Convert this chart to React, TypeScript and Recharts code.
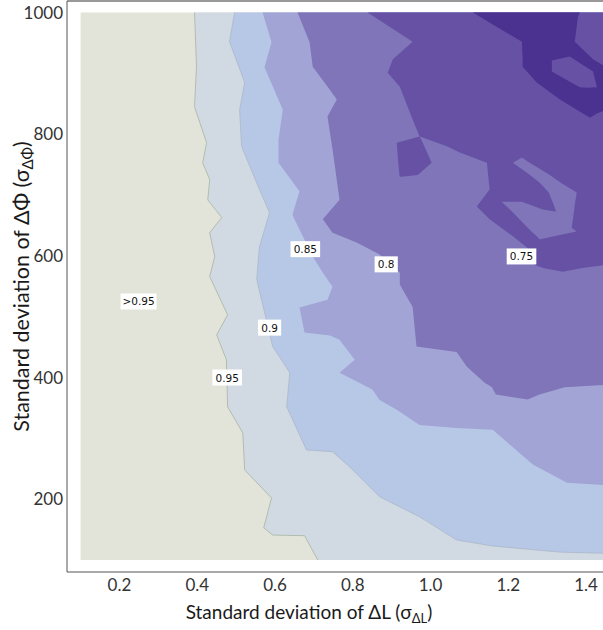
import { ComposedChart, Area, XAxis, YAxis, ReferenceDot, ReferenceLine, Label } from "recharts";

const FONT = "Lato, 'Open Sans', sans-serif";

const X_TICKS = [0.2, 0.4, 0.6, 0.8, 1.0, 1.2, 1.4];
const Y_TICKS = [200, 400, 600, 800, 1000];
const X_DOMAIN = [0.065, 1.4436];
const Y_DOMAIN = [80.3, 1018.9];

// contour regions, one row per level of sigma_dPhi: [y, x from, x to]
const regionAbove95 = [
  [1000, 0.1, 1.45],
  [100, 0.1, 1.45],
];

const region95 = [
  [1000, 0.393, 1.45],
  [911, 0.398, 1.45],
  [845, 0.393, 1.45],
  [786, 0.424, 1.45],
  [753, 0.414, 1.45],
  [725, 0.432, 1.45],
  [692, 0.427, 1.45],
  [663, 0.463, 1.45],
  [638, 0.432, 1.45],
  [599, 0.445, 1.45],
  [566, 0.432, 1.45],
  [503, 0.478, 1.45],
  [470, 0.45, 1.45],
  [429, 0.475, 1.45],
  [352, 0.478, 1.45],
  [309, 0.517, 1.45],
  [248, 0.522, 1.45],
  [202, 0.591, 1.45],
  [153, 0.571, 1.45],
  [141, 0.594, 1.45],
  [140, 0.676, 1.45],
  [100, 0.71, 1.45],
];

const region90 = [
  [1000, 0.496, 1.45],
  [952, 0.483, 1.45],
  [885, 0.522, 1.45],
  [840, 0.509, 1.45],
  [780, 0.514, 1.45],
  [709, 0.56, 1.45],
  [671, 0.586, 1.45],
  [615, 0.56, 1.45],
  [561, 0.553, 1.45],
  [451, 0.594, 1.45],
  [408, 0.638, 1.45],
  [352, 0.63, 1.45],
  [281, 0.681, 1.45],
  [278, 0.748, 1.45],
  [253, 0.792, 1.45],
  [204, 0.869, 1.45],
  [171, 0.972, 1.45],
  [133, 1.067, 1.45],
  [123, 1.16, 1.45],
  [113, 1.333, 1.45],
  [111, 1.45, 1.45],
];

const region85 = [
  [1000, 0.568, 1.45],
  [951, 0.591, 1.45],
  [910, 0.573, 1.45],
  [840, 0.62, 1.45],
  [791, 0.609, 1.45],
  [753, 0.609, 1.45],
  [706, 0.663, 1.45],
  [668, 0.645, 1.45],
  [660, 0.65, 1.45],
  [599, 0.697, 1.45],
  [572, 0.723, 1.45],
  [549, 0.748, 1.45],
  [528, 0.735, 1.45],
  [515, 0.663, 1.45],
  [474, 0.676, 1.45],
  [469, 0.741, 1.45],
  [462, 0.766, 1.45],
  [429, 0.805, 1.45],
  [408, 0.766, 1.45],
  [391, 0.818, 1.45],
  [380, 0.851, 1.45],
  [363, 0.869, 1.45],
  [347, 0.913, 1.45],
  [322, 0.972, 1.45],
  [317, 1.067, 1.45],
  [314, 1.16, 1.45],
  [257, 1.263, 1.45],
  [227, 1.351, 1.45],
  [223, 1.45, 1.45],
];

const region80 = [
  [1000, 0.658, 1.45],
  [951, 0.689, 1.45],
  [911, 0.697, 1.45],
  [873, 0.741, 1.45],
  [857, 0.759, 1.45],
  [829, 0.735, 1.45],
  [775, 0.748, 1.45],
  [692, 0.766, 1.45],
  [660, 0.723, 1.45],
  [638, 0.748, 1.45],
  [622, 0.81, 1.45],
  [602, 0.869, 1.45],
  [572, 0.921, 1.45],
  [553, 0.921, 1.45],
  [516, 0.954, 1.45],
  [451, 0.964, 1.45],
  [442, 1.067, 1.45],
  [418, 1.093, 1.45],
  [391, 1.14, 1.45],
  [388, 1.148, 1.45],
  [384, 1.158, 1.345],
  [372, 1.168, 1.28],
  [364, 1.25, 1.25],
];

const region75 = [
  [1000, 0.838, 1.45],
  [952, 0.954, 1.45],
  [923, 0.903, 1.45],
  [901, 0.89, 1.45],
  [878, 0.921, 1.45],
  [824, 0.954, 1.45],
  [796, 0.972, 1.45],
  [780, 1.042, 1.45],
  [770, 1.075, 1.45],
  [753, 1.145, 1.45],
  [709, 1.152, 1.45],
  [681, 1.119, 1.45],
  [660, 1.152, 1.45],
  [632, 1.212, 1.45],
  [610, 1.255, 1.45],
  [590, 1.26, 1.45],
  [585, 1.268, 1.45],
  [580, 1.29, 1.39],
  [574, 1.34, 1.34],
];

const region70 = [
  [1000, 1.109, 1.384],
  [992, 1.129, 1.379],
  [952, 1.235, 1.371],
  [923, 1.237, 1.418],
  [911, 1.237, 1.45],
  [885, 1.273, 1.45],
  [857, 1.333, 1.45],
  [840, 1.376, 1.45],
  [834, 1.392, 1.428],
  [827, 1.41, 1.41],
];

// pockets of a higher level inside lower ones
const pocket75InTop = [
  [927.6, 1.358, 1.358],
  [921, 1.312, 1.374],
  [903, 1.312, 1.418],
  [890, 1.348, 1.423],
  [877, 1.384, 1.428],
  [876.5, 1.405, 1.405],
];

const island75 = [
  [796, 0.972, 0.972],
  [786, 0.913, 0.98],
  [753, 0.917, 1.003],
  [733, 0.92, 0.967],
  [730, 0.921, 0.925],
];

const hookArm80 = [
  [761.5, 1.235, 1.235],
  [753, 1.212, 1.255],
  [734, 1.253, 1.304],
  [720, 1.281, 1.335],
  [704, 1.304, 1.376],
  [684, 1.317, 1.371],
  [668, 1.325, 1.368],
];

const hookBase80 = [
  [689, 1.183, 1.235],
  [676, 1.204, 1.289],
  [668, 1.217, 1.368],
  [646, 1.25, 1.363],
  [640, 1.26, 1.376],
  [632, 1.273, 1.317],
  [627, 1.281, 1.281],
];

const levelLabels = [">0.95", "0.95", "0.9", "0.85", "0.8", "0.75"];
const labelX = [0.249, 0.477, 0.586, 0.678, 0.886, 1.234];
const labelY = [525, 400, 482, 611, 586, 599];

const COLORS = {
  above95: "#e3e4d9",
  l95: "#d1dae2",
  l90: "#b7c8e7",
  l85: "#a1a4d4",
  l80: "#7f75b8",
  l75: "#6651a5",
  l70: "#4c3290",
};

const layers = [
  { id: "above95", rows: regionAbove95, color: COLORS.above95 },
  { id: "r95", rows: region95, color: COLORS.l95, stroke: "#9fae9c" },
  { id: "r90", rows: region90, color: COLORS.l90, stroke: "#a7b3c6" },
  { id: "r85", rows: region85, color: COLORS.l85 },
  { id: "r80", rows: region80, color: COLORS.l80 },
  { id: "r75", rows: region75, color: COLORS.l75 },
  { id: "island75", rows: island75, color: COLORS.l75 },
  { id: "hookArm", rows: hookArm80, color: COLORS.l80 },
  { id: "hookBase", rows: hookBase80, color: COLORS.l80 },
  { id: "r70", rows: region70, color: COLORS.l70 },
  { id: "pocket75", rows: pocket75InTop, color: COLORS.l75 },
];

const toRows = (rows: number[][]) => rows.map(([y, x0, x1]) => ({ y, x: [x0, x1] }));

function BoxLabel(props: any) {
  const { cx, cy, text } = props;
  const w = text.length * 6.4 + 4;
  return (
    <g>
      <rect x={cx - w / 2} y={cy - 8} width={w} height={16} fill="#ffffff" />
      <text
        x={cx}
        y={cy + 4}
        textAnchor="middle"
        fontSize={10.5}
        fontFamily="'DejaVu Sans', sans-serif"
        fill="#111"
      >
        {text}
      </text>
    </g>
  );
}

function XTitle(props: any) {
  const { viewBox } = props;
  const cx = viewBox.x + viewBox.width / 2 - 26;
  const y = viewBox.y + 47;
  return (
    <text x={cx} y={y} textAnchor="middle" fontSize={19} fill="#1a1a1a" fontFamily={FONT}>
      Standard deviation of ΔL (σ
      <tspan fontSize={13} dy={4}>ΔL</tspan>
      <tspan dy={-4}>)</tspan>
    </text>
  );
}

function YTitle(props: any) {
  const { viewBox } = props;
  const cx = 22;
  const cy = viewBox.y + viewBox.height / 2;
  return (
    <text
      x={cx}
      y={cy + 7}
      transform={`rotate(-90, ${cx}, ${cy})`}
      textAnchor="middle"
      fontSize={21.5}
      fill="#1a1a1a"
      fontFamily={FONT}
    >
      Standard deviation of ΔΦ (σ
      <tspan fontSize={15} dy={4}>ΔΦ</tspan>
      <tspan dy={-4}>)</tspan>
    </text>
  );
}

export default function App() {
  return (
    <div style={{ position: "absolute", left: 0, top: 0, width: 603, height: 630, background: "#fff" }}>
      <ComposedChart
        width={603}
        height={630}
        layout="vertical"
        margin={{ top: 1, right: 0, bottom: 0, left: 0 }}
      >
        <XAxis
          type="number"
          domain={X_DOMAIN}
          ticks={X_TICKS}
          allowDataOverflow
          tickFormatter={(v: number) => v.toFixed(1)}
          tick={{ fill: "#333", fontSize: 17, fontFamily: FONT }}
          tickLine={false}
          tickSize={0}
          tickMargin={7}
          axisLine={{ stroke: "#555" }}
          height={58}
        >
          <Label content={XTitle} />
        </XAxis>
        <YAxis
          type="number"
          dataKey="y"
          domain={Y_DOMAIN}
          ticks={Y_TICKS}
          reversed
          allowDataOverflow
          tick={{ fill: "#333", fontSize: 17, fontFamily: FONT }}
          tickLine={false}
          tickSize={0}
          tickMargin={4}
          axisLine={{ stroke: "#555" }}
          width={67}
        >
          <Label content={YTitle} />
        </YAxis>
        <ReferenceLine y={Y_DOMAIN[1]} stroke="#777" strokeWidth={1.5} />
        {layers.map((l) => (
          <Area
            key={l.id}
            data={toRows(l.rows)}
            dataKey="x"
            type="linear"
            fill={l.color}
            fillOpacity={1}
            stroke={l.stroke ?? "none"}
            strokeWidth={0.7}
            dot={false}
            activeDot={false}
            isAnimationActive={false}
          />
        ))}
        {levelLabels.map((t, i) => (
          <ReferenceDot
            key={t}
            x={labelX[i]}
            y={labelY[i]}
            r={0}
            shape={(p: any) => <BoxLabel {...p} text={t} />}
          />
        ))}
      </ComposedChart>
    </div>
  );
}
